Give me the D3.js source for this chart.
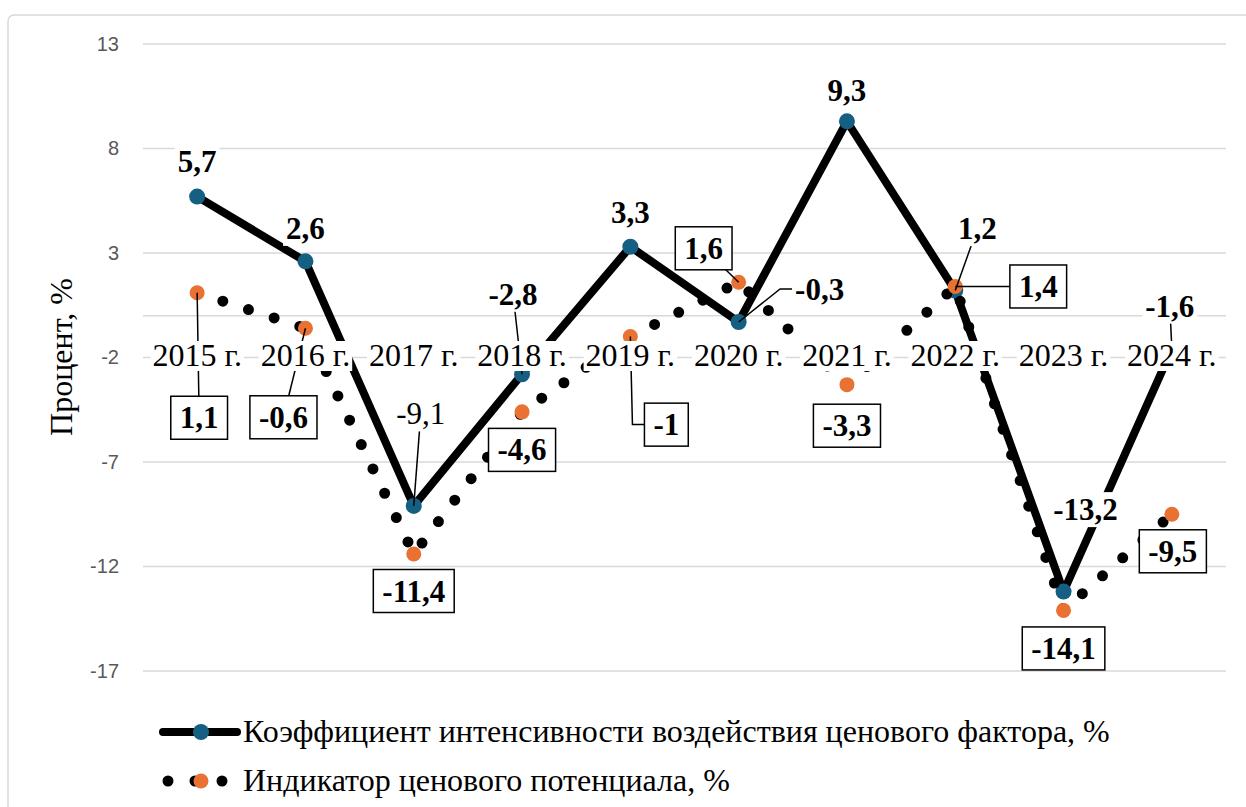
<!DOCTYPE html>
<html>
<head>
<meta charset="utf-8">
<script src="https://cdn.jsdelivr.net/npm/d3@7"></script>
<style>
  body { margin: 0; background: #fff; }
  svg { display: block; }
</style>
</head>
<body>
<svg id="chart" width="1246" height="807"></svg>
<script>
// data
var years = ["2015 г.", "2016 г.", "2017 г.", "2018 г.", "2019 г.", "2020 г.", "2021 г.", "2022 г.", "2023 г.", "2024 г."];
var coefValues = [5.7, 2.6, -9.1, -2.8, 3.3, -0.3, 9.3, 1.2, -13.2, -1.6];
var indicatorValues = [1.1, -0.6, -11.4, -4.6, -1, 1.6, -3.3, 1.4, -14.1, -9.5];
var yTicks = [13, 8, 3, -2, -7, -12, -17];
var seriesNames = ["Коэффициент интенсивности воздействия ценового фактора, %", "Индикатор ценового потенциала, %"];

// label placement (offset of label centre from its point, in px)
var coefLabelPos = [
  {dx: 0, dy: -35}, {dx: 0, dy: -33}, {dx: 7, dy: -92, leader: "line", regular: true},
  {dx: -9, dy: -80, leader: "line"}, {dx: 0, dy: -34}, {dx: 81, dy: -33, leader: "elbow"},
  {dx: 0, dy: -31}, {dx: 22, dy: -62, leader: "line"}, {dx: 22, dy: -82}, {dx: -2, dy: -43, leader: "line"}
];
var indicatorLabelPos = [
  {dx: 2, dy: 125, leader: "line"}, {dx: -22, dy: 89, leader: "line"}, {dx: 0, dy: 37},
  {dx: 0, dy: 38}, {dx: 36, dy: 88, leader: "elbow"}, {dx: -35, dy: -34, leader: "line"},
  {dx: 0, dy: 41}, {dx: 83, dy: 0, leader: "line"}, {dx: 0, dy: 38}, {dx: 1, dy: 37}
];

var svg = d3.select("#chart");
var serif = "'Liberation Serif'";
var sans = "'Liberation Sans'";
var blue = "#156082", orange = "#E97132";

// outer frame
svg.append("rect")
    .attr("x", 8).attr("y", 15)
    .attr("width", 1260).attr("height", 820)
    .attr("rx", 6)
    .attr("fill", "none")
    .attr("stroke", "#d9d9d9")
    .attr("stroke-width", 1.5);

var x = d3.scaleBand().domain(years).range([143, 1226]).padding(0);
var y = d3.scaleLinear().domain([-17, 13]).range([671, 44]);
function px(i) { return x(years[i]) + x.bandwidth() / 2; }
function fmt(v) { return String(v).replace(".", ","); }

// gridlines (plus the horizontal axis line at 0)
svg.append("g").selectAll("line")
    .data(yTicks.concat([0]))
  .enter().append("line")
    .attr("x1", 143).attr("x2", 1226)
    .attr("y1", function(d) { return y(d); })
    .attr("y2", function(d) { return y(d); })
    .attr("stroke", "#d9d9d9")
    .attr("stroke-width", 1.5);

// y axis labels
var yAxis = d3.axisLeft(y).tickValues(yTicks).tickFormat(String).tickSize(0).tickPadding(0);
svg.append("g")
    .attr("transform", "translate(119,0)")
    .call(yAxis)
    .call(function(g) { g.select(".domain").remove(); })
    .attr("font-family", null)
    .attr("font-size", null)
    .selectAll("text")
    .style("font-family", sans)
    .attr("font-size", 20)
    .attr("fill", "#595959");

svg.append("text")
    .attr("transform", "translate(72,357)rotate(-90)")
    .attr("text-anchor", "middle")
    .style("font-family", serif)
    .attr("font-size", 32)
    .text("Процент, %");

// series 1 - solid line
var line = d3.line()
    .x(function(d, i) { return px(i); })
    .y(function(d) { return y(d); });

svg.append("path")
    .datum(coefValues)
    .attr("d", line)
    .attr("fill", "none")
    .attr("stroke", "#000")
    .attr("stroke-width", 8)
    .attr("stroke-linejoin", "round");

svg.append("g").selectAll("circle")
    .data(coefValues)
  .enter().append("circle")
    .attr("cx", function(d, i) { return px(i); })
    .attr("cy", function(d) { return y(d); })
    .attr("r", 8)
    .attr("fill", blue);

// series 2 - round dot line
svg.append("path")
    .datum(indicatorValues)
    .attr("d", line)
    .attr("fill", "none")
    .attr("stroke", "#000")
    .attr("stroke-width", 11)
    .attr("stroke-linecap", "round")
    .attr("stroke-dasharray", "0 27");

svg.append("g").selectAll("circle")
    .data(indicatorValues)
  .enter().append("circle")
    .attr("cx", function(d, i) { return px(i); })
    .attr("cy", function(d) { return y(d); })
    .attr("r", 7.5)
    .attr("fill", orange);

var leaders = svg.append("g");
var labelLayer = svg.append("g");   // raised after category labels

function drawLabels(values, pos, boxed) {
  values.forEach(function(v, i) {
    var p = pos[i];
    var cx = px(i) + p.dx, cy = y(v) + p.dy;
    var g = labelLayer.append("g");
    var bg = g.append("rect");
    var t = g.append("text")
        .attr("x", cx).attr("y", cy)
        .attr("dy", "0.34em")
        .attr("text-anchor", "middle")
        .style("font-family", serif)
        .attr("font-size", 31)
        .attr("font-weight", p.regular ? "normal" : "bold")
        .text(fmt(v));
    var bb = t.node().getBBox();
    var padX = boxed ? 9 : 3, padY = boxed ? 4 : 0;
    var bx = bb.x - padX, bw = bb.width + 2 * padX;
    var by = bb.y - padY, bh = bb.height + 2 * padY;
    bg.attr("x", bx).attr("y", by).attr("width", bw).attr("height", bh)
      .attr("fill", "#fff")
      .attr("stroke", boxed ? "#000" : "none")
      .attr("stroke-width", 1.5);
    if (p.leader === "line") {
      leaders.append("line")
          .attr("x1", px(i)).attr("y1", y(v))
          .attr("x2", cx).attr("y2", cy)
          .attr("stroke", "#000").attr("stroke-width", 1.5);
    } else if (p.leader === "elbow") {
      var knee = bx - 12;
      leaders.append("path")
          .attr("d", "M" + px(i) + "," + y(v) + "L" + knee + "," + cy + "L" + bx + "," + cy)
          .attr("fill", "none")
          .attr("stroke", "#000").attr("stroke-width", 1.5);
    }
  });
}

drawLabels(coefValues, coefLabelPos, false);
drawLabels(indicatorValues, indicatorLabelPos, true);

// category labels with white backing
var cat = svg.append("g");
years.forEach(function(yr, i) {
  var g = cat.append("g");
  var bg = g.append("rect");
  var t = g.append("text")
      .attr("x", px(i)).attr("y", 366)
      .attr("text-anchor", "middle")
      .style("font-family", serif)
      .attr("font-size", 32)
      .text(yr);
  var bb = t.node().getBBox();
  bg.attr("x", bb.x - 2).attr("y", bb.y + 4)
    .attr("width", bb.width + 4).attr("height", bb.height - 6)
    .attr("fill", "#fff");
});

labelLayer.raise();

// legend
var legend = svg.append("g");
var L1 = 732, L2 = 781;
legend.append("line")
    .attr("x1", 163).attr("x2", 237).attr("y1", L1).attr("y2", L1)
    .attr("stroke", "#000").attr("stroke-width", 8).attr("stroke-linecap", "round");
legend.append("circle").attr("cx", 201).attr("cy", L1).attr("r", 8).attr("fill", blue);
legend.append("line")
    .attr("x1", 168).attr("x2", 232).attr("y1", L2).attr("y2", L2)
    .attr("stroke", "#000").attr("stroke-width", 11)
    .attr("stroke-linecap", "round").attr("stroke-dasharray", "0 27");
legend.append("circle").attr("cx", 201).attr("cy", L2).attr("r", 7.5).attr("fill", orange);

legend.selectAll("text")
    .data(seriesNames)
  .enter().append("text")
    .attr("x", 243)
    .attr("y", function(d, i) { return (i === 0 ? L1 : L2) + 10; })
    .style("font-family", serif)
    .attr("font-size", 32)
    .text(function(d) { return d; });
</script>
</body>
</html>
